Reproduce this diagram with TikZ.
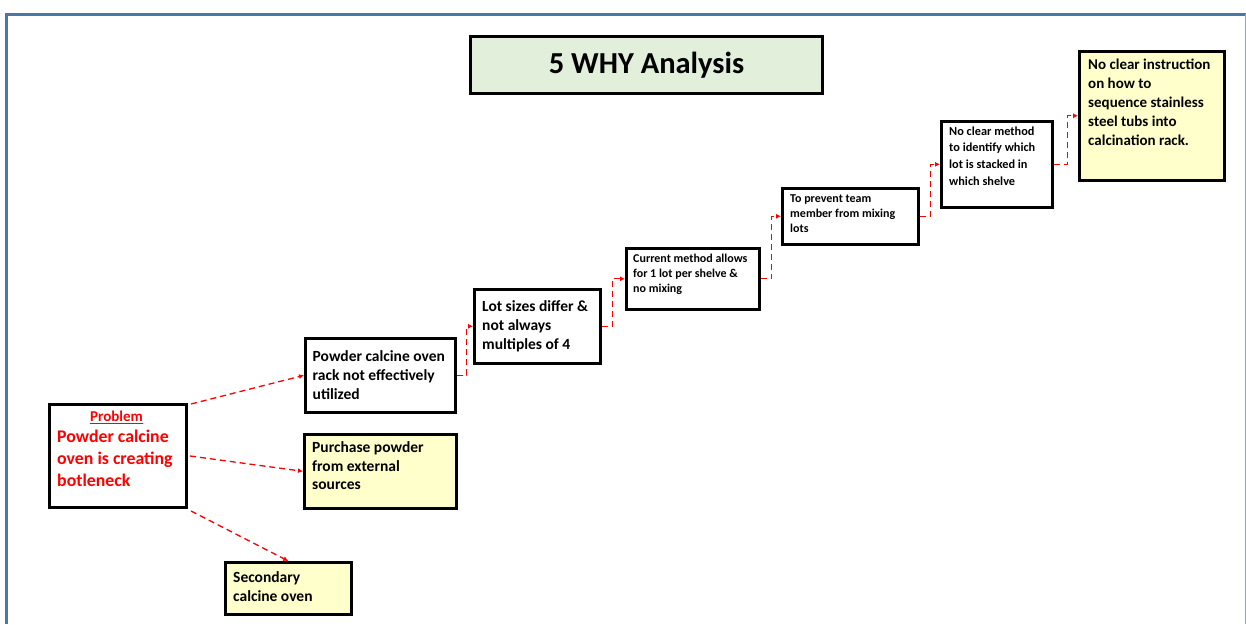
\documentclass[tikz,border=0pt]{standalone}
\usepackage{fontspec}
\setmainfont{Carlito}
\usetikzlibrary{arrows.meta}
\definecolor{frameblue}{HTML}{4A76A8}
\definecolor{framelight}{HTML}{8EA9C8}
\definecolor{titlegreen}{HTML}{E2EFDA}
\definecolor{noteyellow}{HTML}{FFFFCC}
\definecolor{probred}{HTML}{FF0000}
\tikzset{
  boxw/.style={draw=black, line width=2.6pt, fill=white, inner sep=0pt, anchor=north west},
  boxy/.style={boxw, fill=noteyellow},
  txt/.style={anchor=north west, inner sep=0pt, align=left, text=black},
  conn/.style={draw=probred, line width=1.3pt, dash pattern=on 6pt off 4pt,
    -{Latex[length=5pt,width=5pt]}},
}
\newcommand{\fsz}[2]{\bfseries\fontsize{#1}{#2}\selectfont}
\begin{document}
\begin{tikzpicture}[x=1pt,y=-1pt]
\useasboundingbox (0,0) rectangle (1246,624);
% frame
\draw[frameblue, line width=3pt] (5,14.5) -- (1246,14.5);
\draw[frameblue, line width=3pt] (6.5,13) -- (6.5,624);
\draw[framelight, line width=1pt] (1245,14) -- (1245,624);
% title
\node[boxw, fill=titlegreen, line width=3pt, minimum width=352pt, minimum height=57pt] (title) at (469,35) {};
\node[font=\fsz{30.5}{34}] (titletxt) at (title.center) {5 WHY Analysis};
% problem
\node[boxw, line width=3pt, minimum width=137pt, minimum height=103pt] (p) at (48,403) {};
\node[anchor=north, inner sep=0pt, text=probred, font=\fsz{15}{18}] (plab) at (116.5,411) {\underline{Problem}};
\node[txt, text=probred, font=\fsz{17.8}{22}] (ptxt) at (57,430) {Powder calcine\\oven is creating\\botleneck};
% branch boxes
\node[boxw, minimum width=150pt, minimum height=74pt] (b1) at (304,337) {};
\node[txt, font=\fsz{15.5}{19}] (b1t) at (312.5,350) {Powder calcine oven\\rack not effectively\\utilized};
\node[boxy, minimum width=152pt, minimum height=74pt] (pur) at (303,433) {};
\node[txt, font=\fsz{15.5}{18.7}] (purt) at (312,441.5) {Purchase powder\\from external\\sources};
\node[boxy, minimum width=126pt, minimum height=52pt] (sec) at (224,561) {};
\node[txt, font=\fsz{15.5}{19}] (sect) at (233,571) {Secondary\\calcine oven};
% why chain
\node[boxw, minimum width=126pt, minimum height=74pt] (b2) at (473,288) {};
\node[txt, font=\fsz{15.5}{19}] (b2t) at (482,300) {Lot sizes differ \&\\not always\\multiples of 4};
\node[boxw, minimum width=133pt, minimum height=61pt] (b3) at (625,247) {};
\node[txt, font=\fsz{12}{15}] (b3t) at (633,253.5) {Current method allows\\for 1 lot per shelve \&\\no mixing};
\node[boxw, minimum width=136pt, minimum height=56pt] (b4) at (781,187) {};
\node[txt, font=\fsz{12}{15}] (b4t) at (790,194.5) {To prevent team\\member from mixing\\lots};
\node[boxw, minimum width=111pt, minimum height=86pt] (b5) at (940,120) {};
\node[txt, font=\fsz{12.3}{16.6}] (b5t) at (949,126.5) {No clear method\\to identify which\\lot is stacked in\\which shelve};
\node[boxy, minimum width=145pt, minimum height=129pt] (b6) at (1078,50) {};
\node[txt, font=\fsz{15}{19}] (b6t) at (1088,58.5) {No clear instruction\\on how to\\sequence stainless\\steel tubs into\\calcination rack.};
% connectors
\draw[conn] ([xshift=3pt,yshift=-1pt]p.north east) -- (b1.west);
\draw[conn] ([xshift=2pt]p.east) -- (pur.west);
\draw[conn] ([xshift=3pt,yshift=-2pt]p.south east) -- (sec.north);
\draw[conn] (b1.east) -- ++(10,0) |- (b2.west);
\draw[conn] (b2.east) -- ++(11,0) |- (b3.west);
\draw[conn] (b3.east) -- ++(11,0) |- (b4.west);
\draw[conn] (b4.east) -- ++(11,0) |- (b5.west);
\draw[conn] (b5.east) -- ++(14,0) |- (b6.west);
\end{tikzpicture}
\end{document}
